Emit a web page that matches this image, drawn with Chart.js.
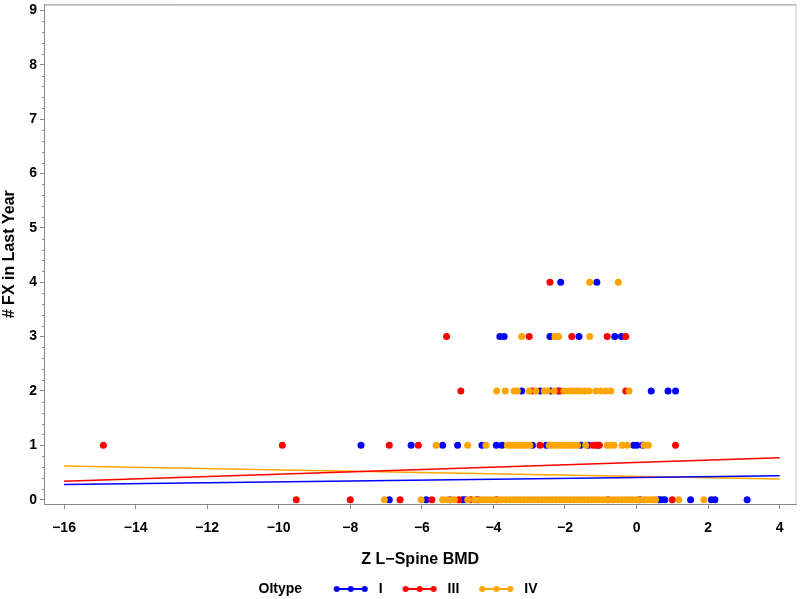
<!DOCTYPE html>
<html>
<head>
<meta charset="utf-8">
<title>FX vs Z L-Spine BMD</title>
<script src="https://cdn.jsdelivr.net/npm/chart.js@4.4.1/dist/chart.umd.min.js"></script>
<style>
  html, body { margin: 0; padding: 0; background: #fff; }
</style>
</head>
<body>
<canvas id="myChart" width="800" height="599"></canvas>
<script>
// number of fractures in last year (y rows)
const fxLevels = [0, 1, 2, 3, 4];

// axis tick values
const xTickValues = [-16, -14, -12, -10, -8, -6, -4, -2, 0, 2, 4];
const yTickValues = [0, 1, 2, 3, 4, 5, 6, 7, 8, 9];

// Z L-Spine BMD per OI type, one list per fracture count in fxLevels
const typeI_bmd = [
  [-6.91, -5.88, -5.21, -4.86, -4.79, -4.42, 0.09, 0.62, 0.70, 0.79, 1.51, 2.09, 2.19, 3.09],
  [-7.70, -6.30, -5.42, -5.00, -4.32, -3.92, -3.76, -2.91, -2.52, -1.56, -1.35, -1.08, -0.08, 0.01, 0.17],
  [-3.21, -2.70, -2.40, -2.19, 0.41, 0.88, 1.09],
  [-3.82, -3.70, -2.42, -1.61, -0.61, -0.42],
  [-2.12, -1.11]
];
const typeIII_bmd = [
  [-9.51, -8.00, -6.61, -5.72, -4.97, -4.63, -4.47, -3.91, -0.80, 1.00],
  [-14.90, -9.90, -6.91, -6.10, -2.70, -1.22, -1.13, -1.04, 1.09],
  [-4.91, -2.91, -2.14, -0.30],
  [-5.31, -3.00, -1.81, -0.82, -0.30],
  [-2.42]
];
const typeIV_bmd = [
  [-7.05, -6.02, -5.42, -5.30, -5.19, -5.09, -4.72, -4.54,
   -4.40, -4.30, -4.20, -4.10, -4.00, -3.85, -3.75, -3.65, -3.55, -3.45, -3.35, -3.25,
   -3.15, -3.05, -2.95, -2.85, -2.75, -2.65, -2.55, -2.45, -2.35, -2.25, -2.15, -2.05,
   -1.95, -1.85, -1.75, -1.65, -1.55, -1.45, -1.35, -1.25, -1.15, -1.05, -0.95, -0.85,
   -0.72, -0.62, -0.52, -0.42, -0.32, -0.22, -0.12, -0.02, 0.05, 0.18, 0.25, 0.32,
   0.40, 0.48, 0.53, 1.18, 1.88],
  [-5.60, -4.72, -4.21, -3.61, -3.52, -3.43, -3.34, -3.25, -3.16, -3.07, -2.98,
   -2.44, -2.35, -2.26, -2.17, -2.08, -1.99, -1.90, -1.81, -1.72, -1.65, -1.42,
   -0.82, -0.73, -0.63, -0.40, -0.26, 0.21, 0.33],
  [-3.91, -3.67, -3.42, -3.33, -3.00, -2.81, -2.58, -2.49, -2.30, -2.03, -1.91,
   -1.79, -1.67, -1.56, -1.44, -1.33, -1.14, -1.00, -0.86, -0.72, -0.21],
  [-3.21, -2.28, -2.18, -1.31],
  [-1.31, -0.51]
];

// regression lines (end points)
const fitX = [-16, 4];
const fitI = [0.28, 0.44];
const fitIII = [0.34, 0.77];
const fitIV = [0.62, 0.38];

const groupNames = ['I', 'III', 'IV'];
const groupColors = ['#0000ff', '#ff0000', '#ffa500'];

const fontFamily = '"Liberation Sans", Arial, sans-serif';

function toPoints(rows) {
  return fxLevels.flatMap((fx, i) => rows[i].map(x => ({ x: x, y: fx })));
}
function toLine(ys) {
  return fitX.map((x, i) => ({ x: x, y: ys[i] }));
}
function fmt(v) {
  return v < 0 ? '\u2212' + Math.abs(v) : String(v);
}

// legend marker: line with three dots
function seriesMarker(color) {
  const c = document.createElement('canvas');
  c.width = 56; c.height = 8;
  const g = c.getContext('2d');
  if (color) {
    g.strokeStyle = color;
    g.lineWidth = 2;
    g.beginPath(); g.moveTo(19, 4); g.lineTo(51, 4); g.stroke();
    g.fillStyle = color;
    [21, 35, 49].forEach(cx => {
      g.beginPath(); g.arc(cx, 4, 3, 0, Math.PI * 2); g.fill();
    });
  }
  return c;
}

// minor ticks on the y axis and the top/right frame
const axisDecor = {
  id: 'axisDecor',
  afterDraw(chart) {
    const { ctx, chartArea: a, scales: { y } } = chart;
    ctx.save();
    ctx.strokeStyle = '#888';
    ctx.lineWidth = 1;
    ctx.beginPath();
    for (let k = 1; k < 45; k++) {
      if (k % 5 === 0) continue;
      const py = Math.round(y.getPixelForValue(k / 5)) + 0.5;
      ctx.moveTo(a.left - 2, py);
      ctx.lineTo(a.left, py);
    }
    ctx.moveTo(a.left, a.top + 0.5);
    ctx.lineTo(a.right, a.top + 0.5);
    ctx.stroke();
    ctx.strokeStyle = '#c8c8c8';
    ctx.beginPath();
    ctx.moveTo(a.right - 0.5, a.top);
    ctx.lineTo(a.right - 0.5, a.bottom);
    ctx.stroke();
    ctx.restore();
  }
};

const scatterSets = [typeI_bmd, typeIII_bmd, typeIV_bmd].map((rows, i) => ({
  type: 'scatter',
  label: groupNames[i],
  data: toPoints(rows),
  backgroundColor: groupColors[i],
  borderWidth: 0,
  pointRadius: 3.5,
  pointHoverRadius: 3.5,
  order: 3 - i
}));

const fitSets = [fitI, fitIII, fitIV].map((ys, i) => ({
  type: 'line',
  label: groupNames[i] + ' fit',
  data: toLine(ys),
  borderColor: groupColors[i],
  borderWidth: 1.5,
  pointRadius: 0,
  fill: false,
  order: 0
}));

const tickFont = { family: fontFamily, size: 14, weight: 'bold' };
const titleFont = { family: fontFamily, size: 16, weight: 'bold' };

new Chart('myChart', {
  type: 'scatter',
  data: { datasets: scatterSets.concat(fitSets) },
  plugins: [axisDecor],
  options: {
    responsive: false,
    animation: false,
    layout: { padding: { top: 1, right: 2, bottom: -7, left: 0 } },
    scales: {
      x: {
        type: 'linear',
        bounds: 'data',
        min: -16.56,
        max: 4.47,
        afterBuildTicks: s => { s.ticks = xTickValues.map(v => ({ value: v })); },
        ticks: { color: '#000', font: tickFont, padding: 11, callback: fmt },
        grid: { drawOnChartArea: false, tickLength: 5, tickColor: '#888' },
        border: { color: '#888' },
        title: { display: true, text: 'Z L\u2212Spine BMD', color: '#000', font: titleFont, padding: { top: 0, bottom: 11 } },
        afterFit: s => { s.height = 76; }
      },
      y: {
        type: 'linear',
        bounds: 'data',
        min: -0.08,
        max: 9.11,
        afterBuildTicks: s => { s.ticks = yTickValues.map(v => ({ value: v })); },
        ticks: { color: '#000', font: Object.assign({}, tickFont, { lineHeight: 0.2 }), padding: 3, callback: fmt },
        grid: { drawOnChartArea: false, tickLength: 4, tickColor: '#888' },
        border: { color: '#888' },
        title: { display: true, text: '# FX in Last Year', color: '#000', font: titleFont, padding: { top: 0, bottom: 0 } },
        afterFit: s => { s.width = 44; }
      }
    },
    plugins: {
      tooltip: { enabled: false },
      legend: {
        position: 'bottom',
        labels: {
          usePointStyle: true,
          pointStyleWidth: 56,
          padding: 2,
          color: '#000',
          font: tickFont,
          generateLabels: () => {
            const blank = seriesMarker(null);
            const items = [{ text: 'OItype   ', pointStyle: blank }];
            groupNames.forEach((n, i) => items.push({ text: n, pointStyle: seriesMarker(groupColors[i]) }));
            items.push({ text: '', pointStyle: blank });
            return items.map(it => Object.assign({
              fillStyle: 'transparent', strokeStyle: 'transparent', lineWidth: 0, hidden: false, fontColor: '#000'
            }, it));
          }
        }
      }
    }
  }
});
</script>
</body>
</html>
